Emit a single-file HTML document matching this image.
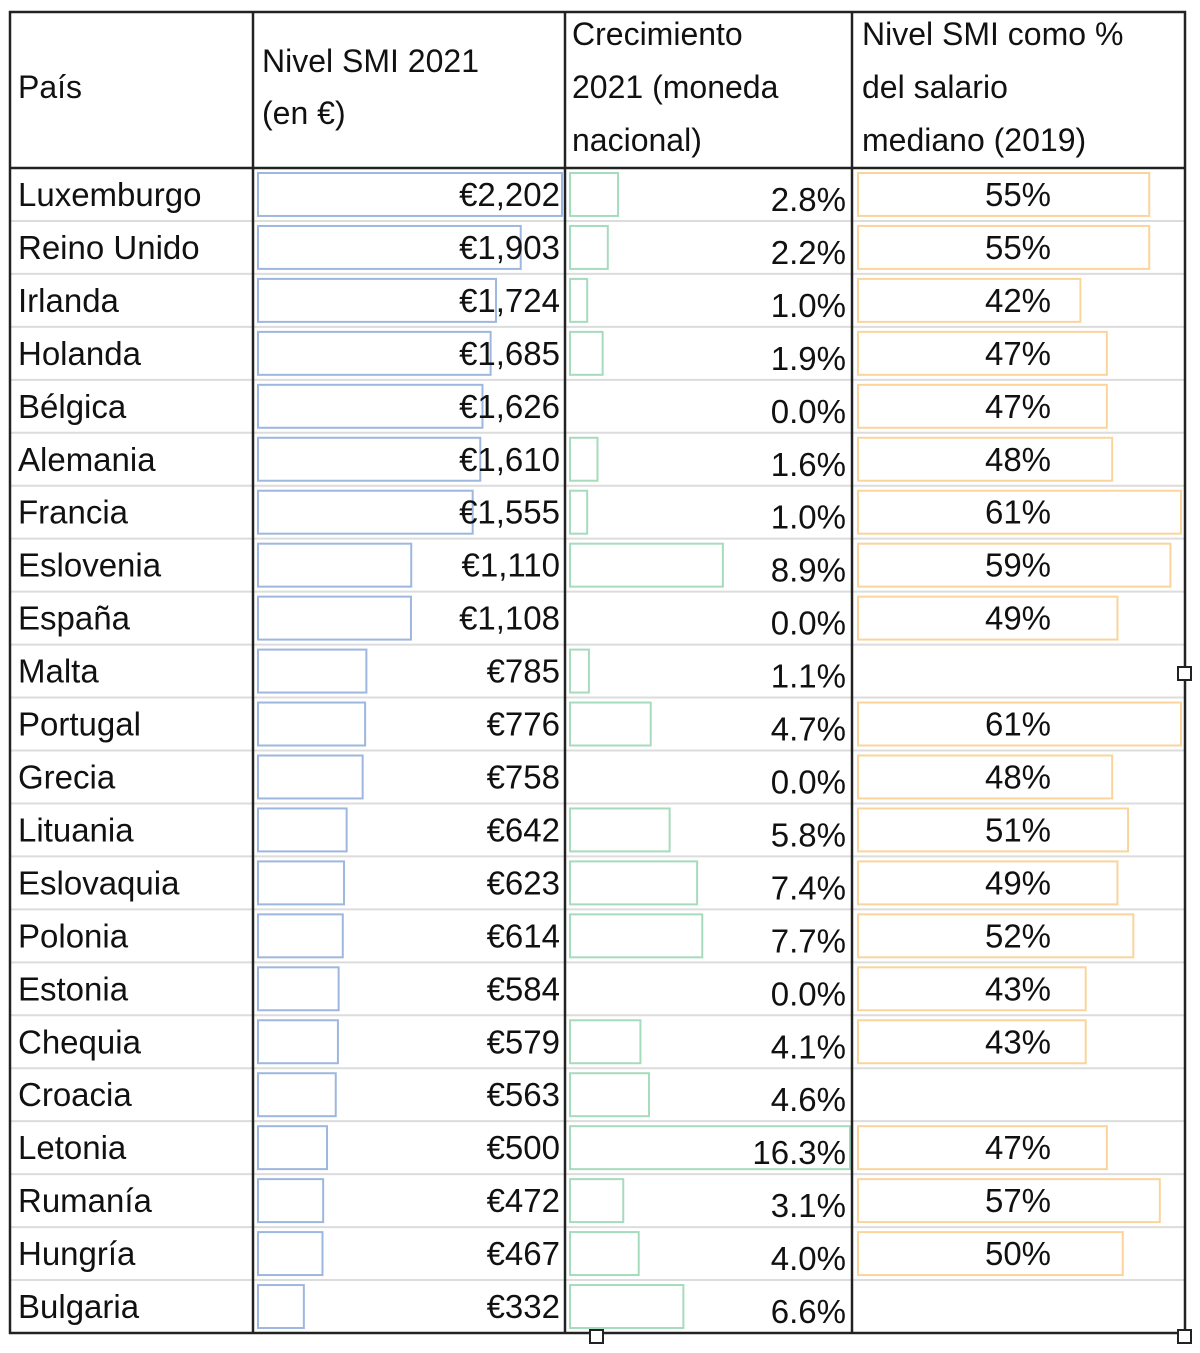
<!DOCTYPE html>
<html><head><meta charset="utf-8"><style>
html,body{margin:0;padding:0;background:#fff;}
svg text{font-family:"Liberation Sans",sans-serif;fill:#111;}
</style></head><body>
<svg id="chart" width="1200" height="1348" viewBox="0 0 1200 1348" xmlns="http://www.w3.org/2000/svg">
<rect x="0" y="0" width="1200" height="1348" fill="#fff"/>
<g id="grid"></g>
<g id="bars"></g>
<g id="labels"></g>
<g id="frame" stroke="#222" stroke-width="2.5" fill="none">
<rect x="10" y="12" width="1175" height="1321"/>
<line x1="10" y1="168" x2="1185" y2="168"/>
<line x1="253" y1="12" x2="253" y2="1333"/>
<line x1="565" y1="12" x2="565" y2="1333"/>
<line x1="852" y1="12" x2="852" y2="1333"/>
</g>
<g font-size="32">
<text x="18" y="98">País</text>
<text x="262" y="72">Nivel SMI 2021</text>
<text x="262" y="124">(en €)</text>
<text x="572" y="45">Crecimiento</text>
<text x="572" y="98">2021 (moneda</text>
<text x="572" y="151">nacional)</text>
<text x="862" y="45">Nivel SMI como %</text>
<text x="862" y="98">del salario</text>
<text x="862" y="151">mediano (2019)</text>
</g>
<g fill="#fff" stroke="#222" stroke-width="2">
<rect x="590" y="1330" width="13" height="13"/>
<rect x="1178" y="667" width="13" height="13"/>
<rect x="1178" y="1330" width="13" height="13"/>
</g>
</svg>
<script>
const countries = ["Luxemburgo","Reino Unido","Irlanda","Holanda","Bélgica","Alemania","Francia","Eslovenia","España","Malta","Portugal","Grecia","Lituania","Eslovaquia","Polonia","Estonia","Chequia","Croacia","Letonia","Rumanía","Hungría","Bulgaria"];
const smiLevel = [2202,1903,1724,1685,1626,1610,1555,1110,1108,785,776,758,642,623,614,584,579,563,500,472,467,332];
const growth = [2.8,2.2,1.0,1.9,0.0,1.6,1.0,8.9,0.0,1.1,4.7,0.0,5.8,7.4,7.7,0.0,4.1,4.6,16.3,3.1,4.0,6.6];
const pctMedian = [55,55,42,47,47,48,61,59,49,null,61,48,51,49,52,43,43,null,47,57,50,null];

const NS = "http://www.w3.org/2000/svg";
const top0 = 168, rowH = (1333 - 168) / countries.length;
const smiMax = Math.max(...smiLevel), growthMax = Math.max(...growth), pctMax = Math.max(...pctMedian.filter(v => v !== null));
const xSmi = v => v / smiMax * 304;
const xGrowth = v => v / growthMax * 280;
const xPct = v => v / pctMax * 323;
const grid = document.getElementById('grid'), bars = document.getElementById('bars'), labels = document.getElementById('labels');
function mk(tag, attrs, parent) {
  const e = document.createElementNS(NS, tag);
  for (const k in attrs) e.setAttribute(k, attrs[k]);
  parent.appendChild(e);
  return e;
}
countries.forEach((c, i) => {
  const y = top0 + i * rowH;
  if (i > 0) {
    const ln = mk('line', {x1: 10, x2: 1185, y1: y, y2: y, stroke: '#dcdcdc', 'stroke-width': 2}, grid);
    
    
  }
  const by = y + 5, bh = rowH - 10;
  const b1 = mk('rect', {x: 258, y: by, width: xSmi(smiLevel[i]), height: bh, fill: '#fff', stroke: '#9db7de', 'stroke-width': 2}, bars);
  
  
  if (growth[i] > 0) {
    const b2 = mk('rect', {x: 570, y: by, width: xGrowth(growth[i]), height: bh, fill: '#fff', stroke: '#a6dbbb', 'stroke-width': 2}, bars);
    
    
  }
  if (pctMedian[i] !== null) {
    const b3 = mk('rect', {x: 858, y: by, width: xPct(pctMedian[i]), height: bh, fill: '#fff', stroke: '#fbd49c', 'stroke-width': 2}, bars);
    
    
  }
  const t0 = mk('text', {x: 18, y: y + 38, 'font-size': 33}, labels);
  t0.textContent = c;
  
  
  const t1 = mk('text', {x: 560, y: y + 38, 'font-size': 33, 'text-anchor': 'end'}, labels);
  t1.textContent = '€' + smiLevel[i].toLocaleString('en-US');
  
  
  const t2 = mk('text', {x: 846, y: y + 43, 'font-size': 33, 'text-anchor': 'end'}, labels);
  t2.textContent = growth[i].toFixed(1) + '%';
  
  
  if (pctMedian[i] !== null) {
    const t3 = mk('text', {x: 1018, y: y + 38, 'font-size': 33, 'text-anchor': 'middle'}, labels);
    t3.textContent = pctMedian[i] + '%';
    
    
  }
});
</script>
</body></html>
